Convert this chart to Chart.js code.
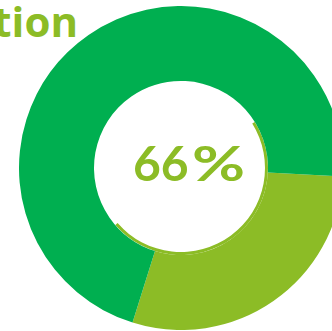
<!DOCTYPE html>
<html>
<head>
<meta charset="utf-8">
<script src="https://cdn.jsdelivr.net/npm/chart.js@4"></script>
<style>
  html, body {
    margin: 0;
    padding: 0;
    width: 332px;
    height: 331px;
    overflow: hidden;
    background: #ffffff;
  }
  #title {
    position: absolute;
    right: 254px;
    top: -8px;
    font-family: "Open Sans", sans-serif;
    font-weight: 700;
    font-size: 42px;
    line-height: 58px;
    color: #8cbc26;
    white-space: nowrap;
  }
  #ring {
    position: absolute;
    left: 19px;
    top: 6px;
  }
  #center {
    position: absolute;
    left: 133px;
    top: 133px;
    font-family: "Lato", sans-serif;
    font-weight: 700;
    font-size: 48px;
    line-height: 60px;
    color: #8cbc26;
    white-space: nowrap;
  }
  #center .pct {
    display: inline-block;
    margin-left: 3px;
    transform: scaleX(1.35);
    transform-origin: left center;
  }
</style>
</head>
<body>
<div id="title">tion</div>
<canvas id="ring" width="324" height="324"></canvas>
<div id="center"></div>

<script>
const OLIVE = "#8cbc26";
const GREEN = "#00af50";

// outer ring: the two shares
const ringLabels = ["Olive", "Green"];
const outerValues = [29, 71];

// thin inner arc, rest left empty
const arcLabels = ["Arc", "Empty"];
const innerValues = [47.5, 52.5];

const centerText = "66%";

// number and percent sign are set separately so the sign can be widened
const center = document.getElementById("center");
const num = document.createElement("span");
num.textContent = centerText.replace("%", "");
const pct = document.createElement("span");
pct.className = "pct";
pct.textContent = "%";
center.appendChild(num);
center.appendChild(pct);

new Chart(document.getElementById("ring"), {
  type: "doughnut",
  data: {
    labels: ringLabels,
    datasets: [
      {
        data: outerValues,
        backgroundColor: [OLIVE, GREEN],
        borderWidth: 0,
        rotation: 93,
        weight: 75
      },
      {
        data: innerValues,
        backgroundColor: [OLIVE, "rgba(0,0,0,0)"],
        borderWidth: 0,
        rotation: 58,
        weight: 3
      }
    ]
  },
  options: {
    responsive: false,
    animation: false,
    cutout: 84,
    layout: { padding: 0 },
    plugins: {
      legend: { display: false },
      tooltip: { enabled: false }
    }
  }
});
</script>
</body>
</html>
